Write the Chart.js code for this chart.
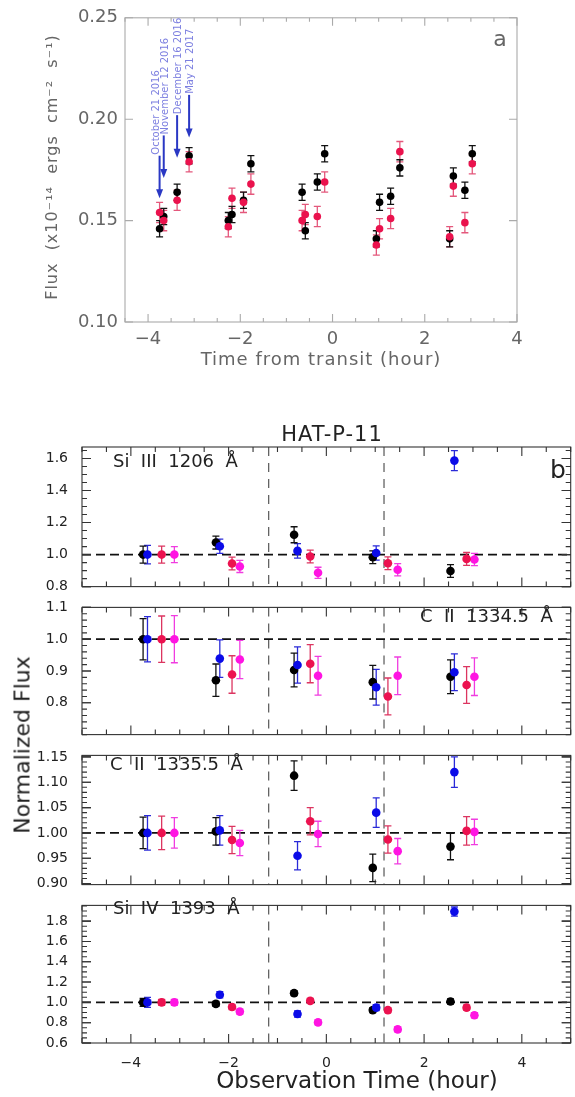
<!DOCTYPE html>
<html>
<head>
<meta charset="utf-8">
<script src="https://cdn.jsdelivr.net/npm/chart.js@4.4.0/dist/chart.umd.min.js"></script>
<style>
  html, body { margin: 0; padding: 0; background: #fff; }
  #wrap { position: relative; width: 575px; height: 1097px; overflow: hidden; }
  canvas { position: absolute; left: 0; }
  #ylab { position: absolute; left: 22px; top: 745px; transform: translate(-50%, -50%) rotate(-90deg);
          font: 22px "DejaVu Sans", sans-serif; color: #222; white-space: nowrap; }
</style>
</head>
<body>
<div id="wrap">
  <canvas id="cA" width="575" height="380" style="top:0px"></canvas>
  <canvas id="cB1" width="575" height="189" style="top:420px"></canvas>
  <canvas id="cB2" width="575" height="172" style="top:585px"></canvas>
  <canvas id="cB3" width="575" height="174" style="top:733px"></canvas>
  <canvas id="cB4" width="575" height="214" style="top:883px"></canvas>
  <div id="ylab">Normalized Flux</div>
</div>
<script>
// ---- panel a : flux vs time from transit ----
var transitTime = [-3.75, -3.66, -3.37, -3.11, -2.26, -2.18, -1.93, -1.77, -0.66, -0.59, -0.33, -0.17,
                   0.95, 1.02, 1.26, 1.46, 2.54, 2.62, 2.87, 3.03];
var fluxBlack = [0.146, 0.152, 0.164, 0.182, 0.150, 0.153, 0.160, 0.178, 0.164, 0.145, 0.169, 0.183,
                 0.141, 0.159, 0.162, 0.176, 0.141, 0.172, 0.165, 0.183];
var fluxBlackErr = [0.004, 0.004, 0.004, 0.004, 0.004, 0.004, 0.004, 0.004, 0.004, 0.004, 0.004, 0.004,
                    0.004, 0.004, 0.004, 0.004, 0.004, 0.004, 0.004, 0.004];
var fluxRed = [0.154, 0.150, 0.160, 0.179, 0.147, 0.161, 0.159, 0.168, 0.150, 0.153, 0.152, 0.169,
               0.138, 0.146, 0.151, 0.184, 0.142, 0.167, 0.149, 0.178];
var fluxRedErr = [0.005, 0.005, 0.005, 0.005, 0.005, 0.005, 0.005, 0.005, 0.005, 0.005, 0.005, 0.005,
                  0.005, 0.005, 0.005, 0.005, 0.005, 0.005, 0.005, 0.005];
var visitDates = ['October 21 2016', 'November 12 2016', 'December 16 2016', 'May 21 2017'];
var arrowX = [-3.75, -3.66, -3.37, -3.11];
var arrowTop = [0.182, 0.192, 0.202, 0.212];
var arrowTip = [0.161, 0.171, 0.181, 0.191];
var fluxTicks = [0.10, 0.15, 0.20, 0.25];
var timeTicks = [-4, -2, 0, 2, 4];

// ---- panel b : normalized line fluxes ----
var obsTimeBlack = [-3.75, -2.26, -0.66, 0.95, 2.54];
var obsTimeBlue = [-3.66, -2.18, -0.59, 1.02, 2.62];
var obsTimeRed = [-3.37, -1.93, -0.33, 1.26, 2.87];
var obsTimeMagenta = [-3.11, -1.77, -0.17, 1.46, 3.03];
var transitEdges = [-1.18, 1.18];

var siIIIBlack = [1.00, 1.075, 1.124, 0.983, 0.897];
var siIIIBlackErr = [0.053, 0.040, 0.050, 0.040, 0.040];
var siIIIBlue = [1.00, 1.052, 1.023, 1.010, 1.587];
var siIIIBlueErr = [0.058, 0.045, 0.045, 0.045, 0.062];
var siIIIRed = [1.00, 0.944, 0.988, 0.946, 0.973];
var siIIIRedErr = [0.053, 0.040, 0.040, 0.040, 0.040];
var siIIIMagenta = [1.00, 0.926, 0.886, 0.905, 0.969];
var siIIIMagentaErr = [0.050, 0.038, 0.035, 0.038, 0.038];
var siIIITicks = [0.8, 1.0, 1.2, 1.4, 1.6];

var cII1334Black = [1.00, 0.871, 0.903, 0.865, 0.882];
var cII1334BlackErr = [0.065, 0.051, 0.053, 0.053, 0.053];
var cII1334Blue = [1.00, 0.939, 0.919, 0.849, 0.896];
var cII1334BlueErr = [0.071, 0.059, 0.057, 0.056, 0.058];
var cII1334Red = [1.00, 0.889, 0.923, 0.820, 0.856];
var cII1334RedErr = [0.073, 0.059, 0.060, 0.058, 0.058];
var cII1334Magenta = [1.00, 0.936, 0.885, 0.885, 0.882];
var cII1334MagentaErr = [0.074, 0.060, 0.061, 0.059, 0.059];
var cII1334Ticks = [0.8, 0.9, 1.0, 1.1];

var cII1335Black = [1.00, 1.003, 1.113, 0.931, 0.973];
var cII1335BlackErr = [0.031, 0.027, 0.029, 0.027, 0.026];
var cII1335Blue = [1.00, 1.005, 0.955, 1.040, 1.120];
var cII1335BlueErr = [0.034, 0.029, 0.028, 0.029, 0.030];
var cII1335Red = [1.00, 0.986, 1.023, 0.987, 1.004];
var cII1335RedErr = [0.033, 0.027, 0.027, 0.027, 0.028];
var cII1335Magenta = [1.00, 0.980, 0.998, 0.964, 1.002];
var cII1335MagentaErr = [0.030, 0.025, 0.025, 0.025, 0.025];
var cII1335Ticks = [0.90, 0.95, 1.00, 1.05, 1.10, 1.15];

var siIVBlack = [1.00, 0.985, 1.091, 0.924, 1.009];
var siIVBlackErr = [0.040, 0.025, 0.025, 0.025, 0.025];
var siIVBlue = [1.00, 1.075, 0.885, 0.948, 1.894];
var siIVBlueErr = [0.050, 0.030, 0.030, 0.030, 0.045];
var siIVRed = [1.00, 0.955, 1.015, 0.924, 0.948];
var siIVRedErr = [0.030, 0.025, 0.025, 0.025, 0.025];
var siIVMagenta = [1.00, 0.909, 0.803, 0.734, 0.873];
var siIVMagentaErr = [0.030, 0.025, 0.025, 0.025, 0.025];
var siIVTicks = [0.6, 0.8, 1.0, 1.2, 1.4, 1.6, 1.8];

var obsTicks = [-4, -2, 0, 2, 4];

Chart.defaults.font.family = '"DejaVu Sans", sans-serif';

function series(xs, ys, errs, color, errColor, r) {
  return {
    type: 'scatter',
    data: xs.map(function (x, i) { return { x: x, y: ys[i] }; }),
    err: errs,
    errColor: errColor,
    backgroundColor: color,
    borderColor: color,
    pointRadius: r,
    pointHoverRadius: r,
    pointBorderWidth: 0
  };
}

function steps(min, max, step) {
  var out = [];
  if (!step) return out;
  var v = Math.ceil(min / step - 1e-6) * step;
  for (; v <= max + 1e-9; v += step) out.push(v);
  return out;
}

// IDL style frame, inward ticks, error bars, guide lines and labels
var idl = {
  id: 'idl',
  beforeDatasetsDraw: function (chart, args, o) {
    var ctx = chart.ctx, a = chart.chartArea, sx = chart.scales.x, sy = chart.scales.y;
    ctx.save();
    ctx.beginPath();
    ctx.rect(a.left, a.top, a.right - a.left, a.bottom - a.top);
    ctx.clip();
    (o.vlines || []).forEach(function (v) {
      var px = sx.getPixelForValue(v);
      ctx.setLineDash([9, 7]); ctx.strokeStyle = '#555'; ctx.lineWidth = 1.2;
      ctx.beginPath(); ctx.moveTo(px, a.top); ctx.lineTo(px, a.bottom); ctx.stroke();
    });
    (o.hlines || []).forEach(function (v) {
      var py = sy.getPixelForValue(v);
      ctx.setLineDash([9, 5]); ctx.strokeStyle = '#111'; ctx.lineWidth = 1.8;
      ctx.beginPath(); ctx.moveTo(a.left, py); ctx.lineTo(a.right, py); ctx.stroke();
    });
    ctx.setLineDash([]);
    chart.data.datasets.forEach(function (ds) {
      if (!ds.err) return;
      ctx.strokeStyle = ds.errColor; ctx.lineWidth = 1.3;
      ds.data.forEach(function (p, j) {
        var px = sx.getPixelForValue(p.x);
        var lo = sy.getPixelForValue(p.y - ds.err[j]);
        var hi = sy.getPixelForValue(p.y + ds.err[j]);
        ctx.beginPath();
        ctx.moveTo(px, lo); ctx.lineTo(px, hi);
        ctx.moveTo(px - o.cap, lo); ctx.lineTo(px + o.cap, lo);
        ctx.moveTo(px - o.cap, hi); ctx.lineTo(px + o.cap, hi);
        ctx.stroke();
      });
    });
    ctx.restore();
  },
  afterDraw: function (chart, args, o) {
    var ctx = chart.ctx, a = chart.chartArea, sx = chart.scales.x, sy = chart.scales.y;
    ctx.save();
    ctx.strokeStyle = o.frame; ctx.lineWidth = 1.1;
    ctx.strokeRect(a.left, a.top, a.right - a.left, a.bottom - a.top);
    // x ticks top and bottom
    steps(sx.min, sx.max, o.xMinor).forEach(function (v) {
      var major = o.xMajor.some(function (m) { return Math.abs(m - v) < 1e-6; });
      var len = major ? o.majorLen : o.minorLen;
      var px = sx.getPixelForValue(v);
      ctx.beginPath();
      ctx.moveTo(px, a.bottom); ctx.lineTo(px, a.bottom - len);
      ctx.moveTo(px, a.top); ctx.lineTo(px, a.top + len);
      ctx.stroke();
    });
    // y ticks left and right
    var ys = steps(sy.min, sy.max, o.yMinor).concat(o.yMajor);
    ys.forEach(function (v) {
      var major = o.yMajor.some(function (m) { return Math.abs(m - v) < 1e-6; });
      var len = major ? o.majorLen : o.minorLen;
      var py = sy.getPixelForValue(v);
      ctx.beginPath();
      ctx.moveTo(a.left, py); ctx.lineTo(a.left + len, py);
      ctx.moveTo(a.right, py); ctx.lineTo(a.right - len, py);
      ctx.stroke();
    });
    // arrows marking visits
    (o.arrows || []).forEach(function (ar, i) {
      var px = sx.getPixelForValue(ar.x), top = sy.getPixelForValue(ar.top), tip = sy.getPixelForValue(ar.tip);
      ctx.strokeStyle = '#2a38c4'; ctx.fillStyle = '#2a38c4'; ctx.lineWidth = 2;
      ctx.beginPath(); ctx.moveTo(px, top); ctx.lineTo(px, tip - 8); ctx.stroke();
      ctx.beginPath(); ctx.moveTo(px - 3.5, tip - 9); ctx.lineTo(px + 3.5, tip - 9); ctx.lineTo(px, tip); ctx.closePath(); ctx.fill();
      ctx.save();
      ctx.translate(px + (o.arrowLabelDx ? o.arrowLabelDx[i] : 0), top - 1);
      ctx.rotate(-Math.PI / 2);
      ctx.font = '10px "DejaVu Sans", sans-serif';
      ctx.fillStyle = '#7c7fe0';
      ctx.textAlign = 'left'; ctx.textBaseline = 'middle';
      ctx.fillText(ar.label, 0, 0);
      ctx.restore();
    });
    (o.texts || []).forEach(function (t) {
      ctx.save();
      ctx.translate(t.x, t.y);
      if (t.rot) ctx.rotate(t.rot);
      ctx.font = t.font;
      ctx.fillStyle = t.color;
      if (t.spacing) ctx.letterSpacing = t.spacing;
      ctx.textAlign = t.align || 'center';
      ctx.textBaseline = 'middle';
      ctx.fillText(t.text, 0, 0);
      ctx.restore();
    });
    ctx.restore();
  }
};

function minusFmt(v) { return v < 0 ? '\u2212' + Math.abs(v) : String(v); }

// ---------- chart a ----------
var arrows = arrowX.map(function (x, i) {
  return { x: x, top: arrowTop[i], tip: arrowTip[i], label: visitDates[i] };
});

new Chart(document.getElementById('cA'), {
  type: 'scatter',
  data: {
    datasets: [
      series(transitTime, fluxRed, fluxRedErr, '#ea124d', '#e4587c', 3.8),
      series(transitTime, fluxBlack, fluxBlackErr, '#000000', '#111111', 3.8)
    ]
  },
  plugins: [idl],
  options: {
    responsive: false,
    animation: false,
    devicePixelRatio: 1,
    layout: { padding: { top: 17, right: 58, left: 0, bottom: 0 } },
    scales: {
      x: {
        type: 'linear', min: -4.5, max: 4,
        afterBuildTicks: function (s) { s.ticks = timeTicks.map(function (v) { return { value: v }; }); },
        afterFit: function (s) { s.height = 58; },
        grid: { display: false, drawTicks: false },
        border: { display: false },
        ticks: { autoSkip: false, maxRotation: 0, padding: 7, color: '#666', font: { size: 18 }, callback: minusFmt }
      },
      y: {
        type: 'linear', min: 0.10, max: 0.25,
        afterBuildTicks: function (s) { s.ticks = fluxTicks.map(function (v) { return { value: v }; }); },
        afterFit: function (s) { s.width = 125; },
        grid: { display: false, drawTicks: false },
        border: { display: false },
        ticks: { autoSkip: false, padding: 7, color: '#666', font: { size: 18 },
                 callback: function (v) { return v.toFixed(2); } }
      }
    },
    plugins: {
      legend: { display: false },
      tooltip: { enabled: false },
      idl: {
        frame: '#aaaaaa', cap: 3.5, majorLen: 8, minorLen: 4,
        xMajor: timeTicks, xMinor: 0.5, yMajor: fluxTicks, yMinor: null,
        arrows: arrows, arrowLabelDx: [-3, 1.5, 1, 1],
        texts: [
          { text: 'a', x: 500, y: 40, font: '22px "DejaVu Sans", sans-serif', color: '#666' },
          { text: 'Flux  (x10\u207B\u00B9\u2074  ergs  cm\u207B\u00B2  s\u207B\u00B9)', x: 53, y: 167, rot: -Math.PI / 2,
            font: '16px "DejaVu Sans", sans-serif', color: '#666', spacing: '1px' },
          { text: 'Time from transit (hour)', x: 321, y: 360,
            font: '18px "DejaVu Sans", sans-serif', color: '#666', spacing: '1px' }
        ]
      }
    }
  }
});

// ---------- chart b (four stacked panels) ----------
function panel(id, vals, ticks, yMin, yMax, yMinor, dec, padTop, padBottom, showX, texts) {
  new Chart(document.getElementById(id), {
    type: 'scatter',
    data: {
      datasets: [
        series(obsTimeBlue, vals[1], vals[5], '#0b0be8', '#2a2ad8', 4.3),
        series(obsTimeRed, vals[2], vals[6], '#ec1250', '#dc3560', 4.3),
        series(obsTimeMagenta, vals[3], vals[7], '#ff14e2', '#f03ce0', 4.3),
        series(obsTimeBlack, vals[0], vals[4], '#000000', '#111111', 4.3)
      ]
    },
    plugins: [idl],
    options: {
      responsive: false,
      animation: false,
      devicePixelRatio: 1,
      layout: { padding: { top: padTop, right: 2, left: 0, bottom: padBottom } },
      scales: {
        x: {
          type: 'linear', min: -5, max: 5, display: showX,
          afterBuildTicks: function (s) { s.ticks = obsTicks.map(function (v) { return { value: v }; }); },
          afterFit: function (s) { if (showX) s.height = 54; },
          grid: { display: false, drawTicks: false },
          border: { display: false },
          ticks: { autoSkip: false, maxRotation: 0, padding: 12, color: '#222', font: { size: 14 }, callback: minusFmt }
        },
        y: {
          type: 'linear', min: yMin, max: yMax,
          afterBuildTicks: function (s) { s.ticks = ticks.map(function (v) { return { value: v }; }); },
          afterFit: function (s) { s.width = 82; },
          grid: { display: false, drawTicks: false },
          border: { display: false },
          ticks: { autoSkip: false, padding: 14, color: '#222', font: { size: 14 },
                   callback: function (v) { return v.toFixed(dec); } }
        }
      },
      plugins: {
        legend: { display: false },
        tooltip: { enabled: false },
        idl: {
          frame: '#333333', cap: 3.5, majorLen: 9, minorLen: 5,
          xMajor: obsTicks, xMinor: 0.5, yMajor: ticks, yMinor: yMinor,
          vlines: transitEdges, hlines: [1.0],
          texts: texts
        }
      }
    }
  });
}

var labelFont = '18px "DejaVu Sans", sans-serif';

panel('cB1',
  [siIIIBlack, siIIIBlue, siIIIRed, siIIIMagenta, siIIIBlackErr, siIIIBlueErr, siIIIRedErr, siIIIMagentaErr],
  siIIITicks, 0.8, 1.672, 0.05, 1, 27, 12, false,
  [
    { text: 'HAT-P-11', x: 332, y: 16, font: '21px "DejaVu Sans", sans-serif', color: '#222', spacing: '1px' },
    { text: 'Si  III  1206  \u00C5', x: 113, y: 42, align: 'left', font: labelFont, color: '#222' },
    { text: 'b', x: 558, y: 51, font: '25px "DejaVu Sans", sans-serif', color: '#222' }
  ]);

panel('cB2',
  [cII1334Black, cII1334Blue, cII1334Red, cII1334Magenta, cII1334BlackErr, cII1334BlueErr, cII1334RedErr, cII1334MagentaErr],
  cII1334Ticks, 0.70, 1.10, 0.02, 1, 12, 12, false,
  [
    { text: 'C  II  1334.5  \u00C5', x: 420, y: 32, align: 'left', font: labelFont, color: '#222' }
  ]);

panel('cB3',
  [cII1335Black, cII1335Blue, cII1335Red, cII1335Magenta, cII1335BlackErr, cII1335BlueErr, cII1335RedErr, cII1335MagentaErr],
  cII1335Ticks, 0.898, 1.153, 0.01, 2, 12, 12, false,
  [
    { text: 'C  II  1335.5  \u00C5', x: 110, y: 32, align: 'left', font: labelFont, color: '#222' }
  ]);

panel('cB4',
  [siIVBlack, siIVBlue, siIVRed, siIVMagenta, siIVBlackErr, siIVBlueErr, siIVRedErr, siIVMagentaErr],
  siIVTicks, 0.6, 1.955, 0.05, 1, 12, 0, true,
  [
    { text: 'Si  IV  1393  \u00C5', x: 113, y: 26, align: 'left', font: labelFont, color: '#222' },
    { text: 'Observation Time (hour)', x: 357, y: 199, font: '23px "DejaVu Sans", sans-serif', color: '#222' }
  ]);
</script>
</body>
</html>
